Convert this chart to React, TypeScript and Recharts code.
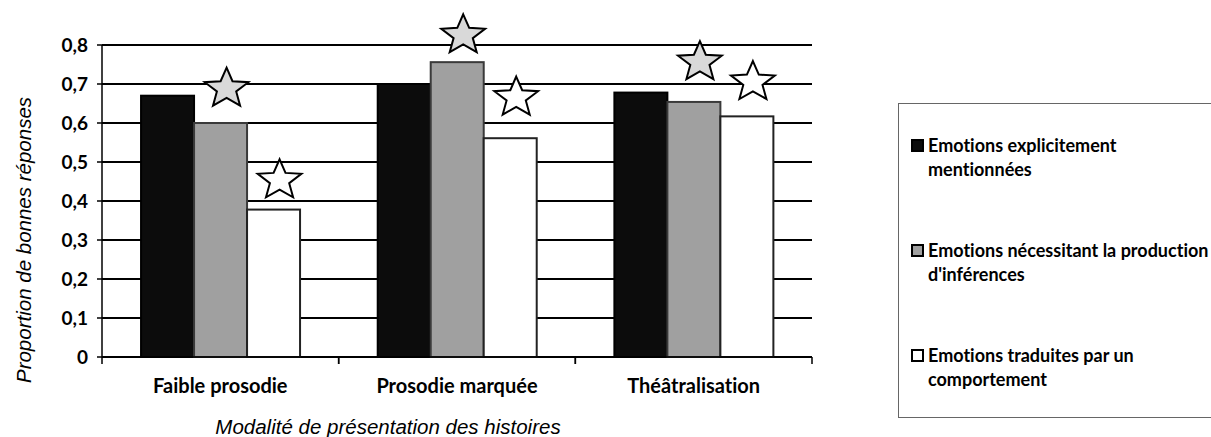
import { BarChart, Bar, XAxis, YAxis, CartesianGrid, Legend, Label } from "recharts";

const categories = ["Faible prosodie", "Prosodie marquée", "Théâtralisation"];
const explicites = [0.67, 0.7, 0.678];
const inferences = [0.6, 0.756, 0.654];
const comportement = [0.378, 0.561, 0.617];
// star markers (significance), height in proportion units
const starInferences = [0.688, 0.825, 0.756];
const starComportement = [0.453, 0.665, 0.705];
const yTicks = [0, 0.1, 0.2, 0.3, 0.4, 0.5, 0.6, 0.7, 0.8];
const seriesNames = [
  "Emotions explicitement mentionnées",
  "Emotions nécessitant la production d'inférences",
  "Emotions traduites par un comportement",
];
const legendLines = [
  ["Emotions explicitement", "mentionnées"],
  ["Emotions nécessitant la production", "d'inférences"],
  ["Emotions traduites par un", "comportement"],
];

const data = categories.map((cat, i) => ({
  cat,
  explicites: explicites[i],
  inferences: inferences[i],
  comportement: comportement[i],
  starInf: starInferences[i],
  starComp: starComportement[i],
}));

const CALIBRI = "Lato, 'Open Sans', sans-serif";
const ARIAL = "'Liberation Sans', Arial, sans-serif";
const NO_LIGA = { fontVariantLigatures: "none" as const };

const W = 1211;
const H = 437;
const MARGIN = { top: 45, right: 399, bottom: 0, left: 0 };
const Y_AXIS_W = 102;
const PLOT_W = W - MARGIN.left - MARGIN.right - Y_AXIS_W;

function starPath(cx: number, cy: number, rx: number, ry: number) {
  let d = "";
  for (let k = 0; k < 10; k++) {
    const r = k % 2 === 0 ? 1 : 0.44;
    const a = -Math.PI / 2 + (k * Math.PI) / 5;
    const px = cx + Math.cos(a) * rx * r;
    const py = cy + Math.sin(a) * ry * r;
    d += (k === 0 ? "M" : "L") + px.toFixed(1) + "," + py.toFixed(1);
  }
  return d + "Z";
}

// bar + optional star above it; star height goes through the same px/unit as the bar
const makeShape =
  (dataKey: string, fill: string, stroke: string, starKey?: string, starFill?: string) =>
  (props: any) => {
    const { x, y, width, height, payload } = props;
    const value = payload[dataKey];
    let star = null;
    if (starKey && value > 0) {
      const pxPerUnit = height / value;
      const cy = y + height - payload[starKey] * pxPerUnit;
      const cx = x + width / 2 + 6;
      star = (
        <path d={starPath(cx, cy, 23, 21)} fill={starFill} stroke="#000" strokeWidth={2} strokeLinejoin="miter" />
      );
    }
    return (
      <g>
        <rect x={x} y={y} width={width} height={height} fill={fill} stroke={stroke} strokeWidth={2} />
        {star}
      </g>
    );
  };

// category label plus the small ticks at the category boundaries
const CategoryTick = (props: any) => {
  const { x, y, payload } = props;
  const half = PLOT_W / (2 * categories.length);
  const x0 = Number(x);
  const y0 = Number(y);
  return (
    <g>
      <path
        d={`M${x0 - half},${y0}V${y0 + 7}M${x0 + half},${y0}V${y0 + 7}`}
        stroke="#000"
        strokeWidth={1.5}
        fill="none"
      />
      <text
        x={x0}
        y={y0 + 28}
        textAnchor="middle"
        dominantBaseline="central"
        fill="#000"
        fontSize={20}
        fontWeight={700}
        fontFamily={CALIBRI}
        style={NO_LIGA}
      >
        {payload.value}
      </text>
    </g>
  );
};

const renderLegend = (props: any) => {
  const payload = props.payload || [];
  return (
    <div
      style={{
        boxSizing: "border-box",
        width: "100%",
        height: "100%",
        borderTop: "1px solid #666",
        borderLeft: "1px solid #666",
        borderBottom: "1px solid #666",
        background: "#fff",
        paddingTop: 29,
        paddingLeft: 12,
        fontFamily: CALIBRI,
        fontWeight: 700,
        fontSize: 18,
        lineHeight: "24px",
        color: "#000",
        ...NO_LIGA,
      }}
    >
      {payload.map((entry: any, i: number) => (
        <div key={i} style={{ display: "flex", alignItems: "flex-start", marginBottom: 57 }}>
          <div
            style={{
              boxSizing: "border-box",
              width: 13,
              height: 13,
              marginTop: 6,
              marginRight: 4,
              background: entry.color,
              border: "2px solid #000",
              flexShrink: 0,
            }}
          />
          <div style={{ whiteSpace: "nowrap" }}>
            {legendLines[i].map((l, j) => (
              <div key={j}>{l}</div>
            ))}
          </div>
        </div>
      ))}
    </div>
  );
};

export default function App() {
  return (
    <div style={{ position: "absolute", left: 0, top: 0, width: W, height: H, background: "#fff" }}>
      <BarChart width={W} height={H} data={data} margin={MARGIN} barCategoryGap="16.5%" barGap={0}>
        <CartesianGrid vertical={false} stroke="#000" strokeWidth={2} />
        <XAxis
          dataKey="cat"
          interval={0}
          height={80}
          axisLine={{ stroke: "#000", strokeWidth: 1.5 }}
          tickLine={false}
          tickSize={0}
          tickMargin={0}
          tick={(p: any) => <CategoryTick {...p} />}
        >
          <Label
            content={(p: any) => {
              const vb = p.viewBox;
              return (
                <text
                  x={vb.x + vb.width / 2 - 69}
                  y={vb.y + 69}
                  textAnchor="middle"
                  dominantBaseline="central"
                  fontFamily={ARIAL}
                  fontStyle="italic"
                  fontSize={20.5}
                  fill="#000"
                >
                  Modalité de présentation des histoires
                </text>
              );
            }}
          />
        </XAxis>
        <YAxis
          domain={[0, 0.8]}
          ticks={yTicks}
          interval={0}
          width={Y_AXIS_W}
          tickFormatter={(v: number) => (v === 0 ? "0" : v.toFixed(1).replace(".", ","))}
          tick={{ fill: "#000", fontSize: 19, fontWeight: 700, fontFamily: CALIBRI }}
          tickSize={5}
          tickMargin={9}
          axisLine={{ stroke: "#000", strokeWidth: 1.5 }}
          tickLine={{ stroke: "#000", strokeWidth: 1.5 }}
        >
          <Label
            content={(p: any) => {
              const vb = p.viewBox;
              const cx = 23;
              const cy = vb.y + vb.height / 2 + 39;
              return (
                <text
                  x={cx}
                  y={cy}
                  transform={`rotate(-90 ${cx} ${cy})`}
                  textAnchor="middle"
                  dominantBaseline="central"
                  fontFamily={ARIAL}
                  fontStyle="italic"
                  fontSize={20.5}
                  fill="#000"
                >
                  Proportion de bonnes réponses
                </text>
              );
            }}
          />
        </YAxis>
        <Legend
          layout="horizontal"
          verticalAlign="middle"
          align="center"
          wrapperStyle={{ position: "absolute", left: 898, top: 103, width: 313, height: 315 }}
          content={renderLegend}
        />
        <Bar
          dataKey="explicites"
          name={seriesNames[0]}
          fill="#0c0c0c"
          isAnimationActive={false}
          shape={makeShape("explicites", "#0c0c0c", "#000")}
        />
        <Bar
          dataKey="inferences"
          name={seriesNames[1]}
          fill="#a0a0a0"
          isAnimationActive={false}
          shape={makeShape("inferences", "#a0a0a0", "#3a3a3a", "starInf", "#d9d9d9")}
        />
        <Bar
          dataKey="comportement"
          name={seriesNames[2]}
          fill="#ffffff"
          isAnimationActive={false}
          shape={makeShape("comportement", "#ffffff", "#222", "starComp", "#ffffff")}
        />
      </BarChart>
    </div>
  );
}
